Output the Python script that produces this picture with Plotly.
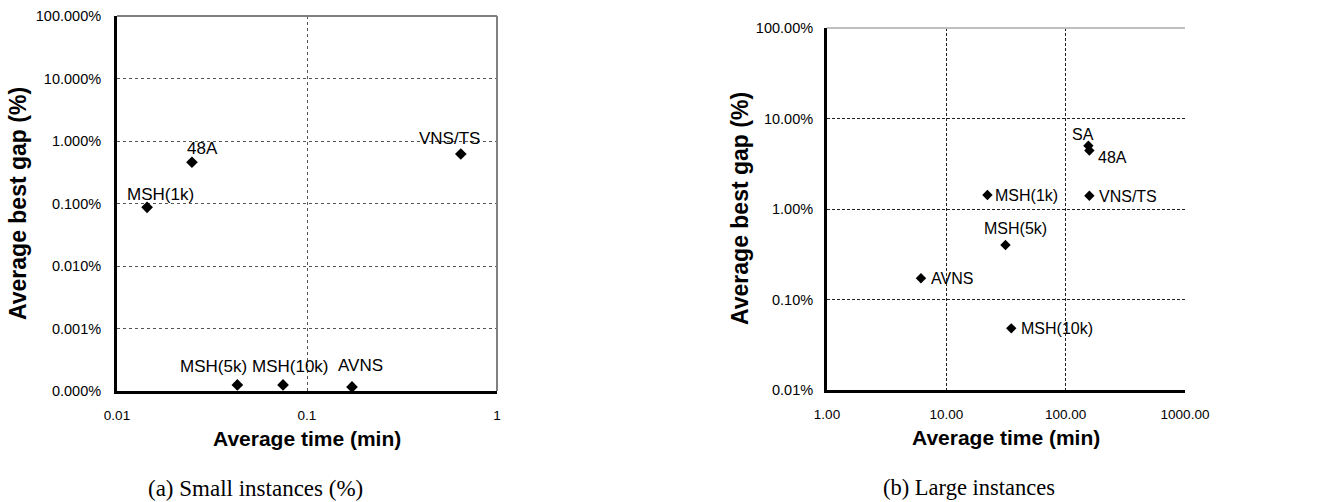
import math
import plotly.graph_objects as go

# ---- data: small instances (time in minutes, gap as a fraction) ----
small_methods = ["MSH(1k)", "48A", "VNS/TS", "MSH(5k)", "MSH(10k)", "AVNS"]
small_time = [0.0144, 0.0248, 0.645, 0.043, 0.0748, 0.1725]
small_gap = [0.00087, 0.00457, 0.0062, 0.00000125, 0.00000125, 0.00000116]

# ---- data: large instances ----
large_methods = ["MSH(1k)", "VNS/TS", "SA", "48A", "MSH(5k)", "AVNS", "MSH(10k)"]
large_time = [22.1, 158.0, 155.0, 158.0, 31.3, 6.13, 35.0]
large_gap = [0.0143, 0.0140, 0.0499, 0.0443, 0.0040, 0.00172, 0.00048]

# tick values / labels
small_xticks = [0.01, 0.1, 1]
small_xlabels = ["0.01", "0.1", "1"]
small_yticks = [1e-6, 1e-5, 1e-4, 1e-3, 1e-2, 1e-1, 1]
large_xticks = [1, 10, 100, 1000]
large_yticks = [1e-4, 1e-3, 1e-2, 1e-1, 1]

# label offsets (pixels, y downwards) relative to each marker
small_shift = [(13, -13), (11, -14), (-11, -15), (-24, -18), (7, -18), (9, -21)]
large_shift = [(39, 1), (39, 1), (-5, -11), (23, 7), (10, -17), (31, 0), (46, 0)]

W, H = 1341, 502
SANS = "Arial, Liberation Sans, sans-serif"
SERIF = "Times New Roman, Liberation Serif, serif"

# plot-area boxes in pixels: (left, right, top, bottom)
boxA = (117, 497, 16, 391)
boxB = (827, 1185, 28, 390)


def xdom(b):
    return [b[0] / W, b[1] / W]


def ydom(b):
    return [1 - b[3] / H, 1 - b[2] / H]


fig = go.Figure()

fig.add_trace(go.Scatter(
    x=small_time, y=small_gap, mode="markers",
    marker=dict(symbol="diamond", size=9, color="black"),
    xaxis="x", yaxis="y", showlegend=False, hoverinfo="skip"))
fig.add_trace(go.Scatter(
    x=large_time, y=large_gap, mode="markers",
    marker=dict(symbol="diamond", size=8, color="black"),
    xaxis="x2", yaxis="y2", showlegend=False, hoverinfo="skip"))

annotations = []
# annotations on log axes are positioned in log10 units
for name, t, g, (dx, dy) in zip(small_methods, small_time, small_gap, small_shift):
    annotations.append(dict(x=math.log10(t), y=math.log10(g), xref="x", yref="y",
                            text=name, showarrow=False, xshift=dx, yshift=-dy,
                            font=dict(family=SANS, size=17, color="black")))
for name, t, g, (dx, dy) in zip(large_methods, large_time, large_gap, large_shift):
    annotations.append(dict(x=math.log10(t), y=math.log10(g), xref="x2", yref="y2",
                            text=name, showarrow=False, xshift=dx, yshift=-dy,
                            font=dict(family=SANS, size=16, color="black")))


def paper_text(text, px, py, font, angle=0):
    return dict(x=px / W, y=1 - py / H, xref="paper", yref="paper", text=text,
                showarrow=False, textangle=angle, xanchor="center", yanchor="middle",
                font=font)


bold = dict(family=SANS, size=21, color="black", weight="bold")
boldy = dict(family=SANS, size=23, color="black", weight="bold")
cap = dict(family=SERIF, size=23, color="black")
annotations += [
    paper_text("Average time (min)", 307, 438, bold),
    paper_text("Average time (min)", 1006, 437, bold),
    paper_text("Average best gap (%)", 18, 204, boldy, -90),
    paper_text("Average best gap (%)", 740, 209, boldy, -90),
    paper_text("(a) Small instances (%)", 255, 488, cap),
    paper_text("(b) Large instances", 969, 487, dict(cap, size=22.5)),
]

tickfont_y = dict(family=SANS, size=14.5, color="black")
tickfont_x = dict(family=SANS, size=13.5, color="black")

common = dict(type="log", showline=True, linecolor="black", linewidth=3, ticks="",
              showgrid=True, gridwidth=1, zeroline=False, automargin=False)

fig.update_layout(
    template="none",
    width=W, height=H, margin=dict(l=0, r=0, t=0, b=0, autoexpand=False),
    paper_bgcolor="white", plot_bgcolor="white",
    annotations=annotations,
    xaxis=dict(domain=xdom(boxA), range=[-2, 0], anchor="y",
               tickvals=small_xticks, ticktext=small_xlabels, tickfont=tickfont_x,
               ticklabelstandoff=10, gridcolor="#555555", griddash="dot", **common),
    yaxis=dict(domain=ydom(boxA), range=[-6, 0], anchor="x",
               tickvals=small_yticks, tickformat=".3%", tickfont=tickfont_y,
               ticklabelstandoff=10, gridcolor="#555555", griddash="dot", **common),
    xaxis2=dict(domain=xdom(boxB), range=[0, 3], anchor="y2",
                tickvals=large_xticks, tickformat=".2f", tickfont=tickfont_x,
                ticklabelstandoff=10, gridcolor="#222222", griddash="3px,2px", **common),
    yaxis2=dict(domain=ydom(boxB), range=[-4, 0], anchor="x2",
                tickvals=large_yticks, tickformat=".2%", tickfont=tickfont_y,
                ticklabelstandoff=8, gridcolor="#222222", griddash="3px,2px", **common),
    shapes=[
        # frame of the left panel (top and right edges)
        dict(type="line", xref="x domain", yref="y domain", x0=0, x1=1, y0=1, y1=1,
             line=dict(color="#808080", width=2), layer="above"),
        dict(type="line", xref="x domain", yref="y domain", x0=1, x1=1, y0=0, y1=1,
             line=dict(color="#808080", width=2), layer="above"),
        # top edge of the right panel
        dict(type="line", xref="x2 domain", yref="y2 domain", x0=0, x1=1, y0=1, y1=1,
             line=dict(color="#bfbfbf", width=2), layer="above"),
    ],
)

fig.write_html("out.html")
